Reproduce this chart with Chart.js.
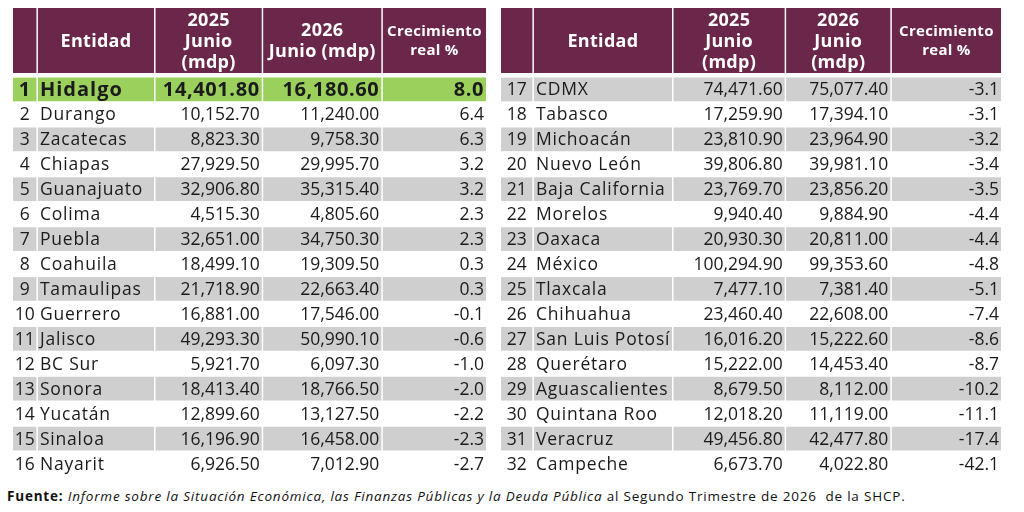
<!DOCTYPE html>
<html>
<head>
<meta charset="utf-8">
<script src="https://cdn.jsdelivr.net/npm/chart.js@4.4.1/dist/chart.umd.min.js"></script>
<style>
  body { margin: 0; background: #fff; width: 1024px; height: 512px; position: relative; overflow: hidden; }
  canvas { position: absolute; }
  #left { left: 13px; top: 8px; }
  #right { left: 501px; top: 8px; }
  #fuente { position: absolute; left: 7px; top: 487px; font-family: "Open Sans", sans-serif; font-size: 13.5px; letter-spacing: 0.8px; color: #111; white-space: pre; }
</style>
</head>
<body>
<canvas id="left" width="476" height="468"></canvas>
<canvas id="right" width="503" height="468"></canvas>
<div id="fuente"><b>Fuente:</b> <i>Informe sobre la Situación Económica, las Finanzas Públicas y la Deuda Pública</i> al Segundo Trimestre de 2026  de la SHCP.</div>
<script>
// datos
const leftRank = [1, 2, 3, 4, 5, 6, 7, 8, 9, 10, 11, 12, 13, 14, 15, 16];
const leftNames = ['Hidalgo', 'Durango', 'Zacatecas', 'Chiapas', 'Guanajuato', 'Colima', 'Puebla', 'Coahuila',
  'Tamaulipas', 'Guerrero', 'Jalisco', 'BC Sur', 'Sonora', 'Yucatán', 'Sinaloa', 'Nayarit'];
const left2025 = [14401.8, 10152.7, 8823.3, 27929.5, 32906.8, 4515.3, 32651.0, 18499.1,
  21718.9, 16881.0, 49293.3, 5921.7, 18413.4, 12899.6, 16196.9, 6926.5];
const left2026 = [16180.6, 11240.0, 9758.3, 29995.7, 35315.4, 4805.6, 34750.3, 19309.5,
  22663.4, 17546.0, 50990.1, 6097.3, 18766.5, 13127.5, 16458.0, 7012.9];
const leftGrowth = [8.0, 6.4, 6.3, 3.2, 3.2, 2.3, 2.3, 0.3, 0.3, -0.1, -0.6, -1.0, -2.0, -2.2, -2.3, -2.7];

const rightRank = [17, 18, 19, 20, 21, 22, 23, 24, 25, 26, 27, 28, 29, 30, 31, 32];
const rightNames = ['CDMX', 'Tabasco', 'Michoacán', 'Nuevo León', 'Baja California', 'Morelos', 'Oaxaca', 'México',
  'Tlaxcala', 'Chihuahua', 'San Luis Potosí', 'Querétaro', 'Aguascalientes', 'Quintana Roo', 'Veracruz', 'Campeche'];
const right2025 = [74471.6, 17259.9, 23810.9, 39806.8, 23769.7, 9940.4, 20930.3, 100294.9,
  7477.1, 23460.4, 16016.2, 15222.0, 8679.5, 12018.2, 49456.8, 6673.7];
const right2026 = [75077.4, 17394.1, 23964.9, 39981.1, 23856.2, 9884.9, 20811.0, 99353.6,
  7381.4, 22608.0, 15222.6, 14453.4, 8112.0, 11119.0, 42477.8, 4022.8];
const rightGrowth = [-3.1, -3.1, -3.2, -3.4, -3.5, -4.4, -4.4, -4.8, -5.1, -7.4, -8.6, -8.7, -10.2, -11.1, -17.4, -42.1];

const leftHeaders = ['', 'Entidad', ['2025', 'Junio', '(mdp)'], ['2026', 'Junio (mdp)'], ['Crecimiento', 'real %']];
const rightHeaders = ['', 'Entidad', ['2025', 'Junio', '(mdp)'], ['2026', 'Junio', '(mdp)'], ['Crecimiento', 'real %']];

const FONT = '"Open Sans", sans-serif';
const PURPLE = '#6b2749';
const GREEN = '#9bd05c';
const GREY = '#cfcfcf';
const HEAD_H = 65;
const GAP = 1.5;

const fmt = v => v.toLocaleString('en-US', { minimumFractionDigits: 2, maximumFractionDigits: 2 });

const tablePlugin = {
  id: 'tablePlugin',
  beforeDatasetsDraw(chart, args, opts) {
    const ctx = chart.ctx;
    const x = chart.scales.x;
    const edges = opts.edges;
    ctx.save();
    opts.headers.forEach((h, c) => {
      const x0 = x.getPixelForValue(edges[c]);
      const x1 = x.getPixelForValue(edges[c + 1] - GAP);
      ctx.fillStyle = PURPLE;
      ctx.fillRect(x0, 0, x1 - x0, HEAD_H);
      const lines = Array.isArray(h) ? h : [h];
      const small = c === 4;
      const lh = small ? 19 : 21;
      ctx.font = (small ? 'bold 15px ' : 'bold 18px ') + FONT;
      ctx.letterSpacing = '0.3px';
      ctx.fillStyle = '#fff';
      ctx.textAlign = 'center';
      ctx.textBaseline = 'middle';
      const cy = HEAD_H / 2 + 1 - (lines.length - 1) * lh / 2;
      lines.forEach((l, k) => ctx.fillText(l, (x0 + x1) / 2, cy + k * lh));
    });
    ctx.restore();
  },
  afterDatasetsDraw(chart, args, opts) {
    const ctx = chart.ctx;
    ctx.save();
    ctx.textBaseline = 'middle';
    ctx.fillStyle = '#1b1b1b';
    chart.data.datasets.forEach((ds, c) => {
      const meta = chart.getDatasetMeta(c);
      meta.data.forEach((bar, i) => {
        const p = bar.getProps(['x', 'base', 'y'], true);
        const txt = opts.columns[c][i];
        const bold = opts.rank[i] === 1;
        ctx.font = (bold ? 'bold 20px ' : '17.5px ') + FONT;
        ctx.letterSpacing = c === 1 ? (bold ? '1px' : '0.8px') : (bold ? '0.6px' : '0px');
        const yy = p.y + 1;
        if (c === 0) {
          ctx.textAlign = 'center';
          ctx.fillText(txt, (p.base + p.x) / 2, yy);
        } else if (c === 1) {
          ctx.textAlign = 'left';
          ctx.fillText(txt, p.base + 2, yy);
        } else {
          ctx.textAlign = 'right';
          ctx.fillText(txt, p.x - 2, yy);
        }
      });
    });
    ctx.restore();
  }
};

function makeTable(id, rank, names, v25, v26, growth, headers, widths) {
  const edges = [0];
  widths.forEach(w => edges.push(edges[edges.length - 1] + w));
  const rowColor = rank.map(r => r === 1 ? GREEN : (r % 2 === 1 ? GREY : '#ffffff'));
  const columns = [
    rank.map(String),
    names,
    v25.map(fmt),
    v26.map(fmt),
    growth.map(g => g.toFixed(1))
  ];
  const datasets = widths.map((w, c) => ({
    data: rank.map(() => [edges[c], edges[c + 1] - GAP]),
    backgroundColor: rowColor,
    borderWidth: 0,
    grouped: false,
    barPercentage: 1,
    categoryPercentage: 0.95
  }));
  new Chart(document.getElementById(id), {
    type: 'bar',
    data: { labels: rank.map(String), datasets },
    plugins: [tablePlugin],
    options: {
      indexAxis: 'y',
      responsive: false,
      animation: false,
      events: [],
      layout: { padding: { top: HEAD_H + 4, left: 0, right: 0, bottom: 0 } },
      scales: {
        x: { type: 'linear', min: 0, max: edges[edges.length - 1] + GAP, display: false },
        y: { type: 'category', display: false }
      },
      plugins: {
        legend: { display: false },
        tooltip: { enabled: false },
        tablePlugin: { headers, edges, columns, rank }
      }
    }
  });
}

makeTable('left', leftRank, leftNames, left2025, left2026, leftGrowth, leftHeaders, [25, 118, 108, 120, 105]);
makeTable('right', rightRank, rightNames, right2025, right2026, rightGrowth, rightHeaders, [33, 140, 113, 106, 111]);
</script>
</body>
</html>
